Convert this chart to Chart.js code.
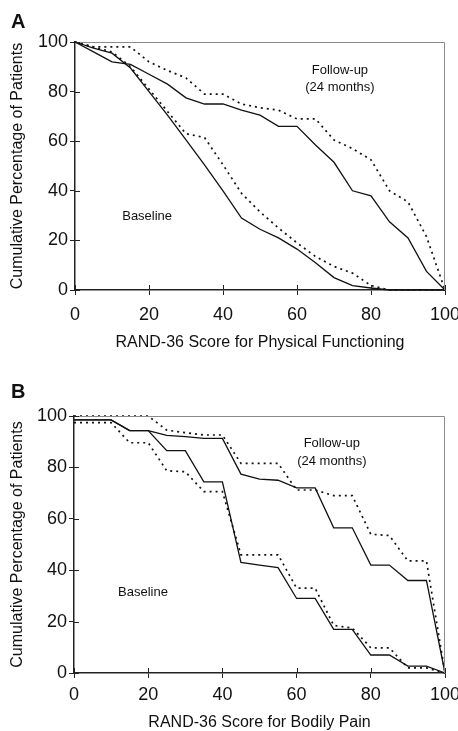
<!DOCTYPE html>
<html>
<head>
<meta charset="utf-8">
<script src="https://cdn.jsdelivr.net/npm/chart.js@4.4.1/dist/chart.umd.min.js"></script>
<style>
	body { margin:0; background:#fff; }
	#boxA { position:absolute; left:0; top:0; }
	#boxB { position:absolute; left:0; top:365px; }
</style>
</head>
<body>
<div id="boxA"><canvas id="graficoA" width="458" height="365"></canvas></div>
<div id="boxB"><canvas id="graficoB" width="458" height="366"></canvas></div>
<script>
	// scores on the x axis (RAND-36, 0-100)
	var scores = [0,5,10,15,20,25,30,35,40,45,50,55,60,65,70,75,80,85,90,95,100];
	var tickStep = 20;

	// A - Physical Functioning
	var physBaseSolid    = [100,97.5,95.5,89.5,80,70.5,60.5,50.5,40,29,24.5,21,16.5,11,5,1.8,0.8,0,0,0,0];
	var physBaseDotted   = [100,98,96,90,81,72,63,61.5,50.5,39,31.5,25,19,13.5,9.5,6.8,1.8,0,0,0,0];
	var physFollowSolid  = [100,96,92,91,87,83,77.5,75,75,72.5,70.5,66,66,58.5,51.5,40,38,27.5,21,7.5,0];
	var physFollowDotted = [100,98,98,98,92,88.5,85.5,79,79,75,73.5,72.5,69,69,60.5,57,52.5,40,35.5,21.5,0];

	// B - Bodily Pain
	var painBaseSolid    = [98.5,98.5,98.5,94.3,94.3,86.5,86.5,74.4,74.4,43,42,41,29,29,17,17,7,7,2.7,2.7,0];
	var painBaseDotted   = [97.4,97.4,97.4,89.6,89.6,78.7,78.3,70.6,70.6,46,46,46,33,33,18.5,17.5,9.8,9.8,2,2,0];
	var painFollowSolid  = [98.5,98.5,98.5,94.3,94.3,92.5,92,91.3,91.3,77.4,75.4,75,72,72,56.5,56.5,42,42,36,36,0];
	var painFollowDotted = [100,100,100,100,100,94.5,93.5,92.6,92.6,81.6,81.6,81.6,71.2,71.2,69,69,54,53.5,43.6,43.6,0];

	var fonte = 'Arial, "Liberation Sans", sans-serif';
	Chart.defaults.font.family = fonte;
	Chart.defaults.color = '#111';

	function pontos(valores){
		return scores.map(function(s, i){ return {x: s, y: valores[i]}; });
	}

	function serie(valores, pontilhado){
		return {
			data: pontos(valores),
			borderColor: '#111',
			borderWidth: pontilhado ? 1.7 : 1.3,
			borderDash: pontilhado ? [2,4] : [],
			pointRadius: 0,
			tension: 0,
			fill: false,
			clip: false
		};
	}

	// frame, inner ticks, notes and panel letter
	var extras = {
		id: 'extras',
		afterDraw: function(chart, args, opts){
			var ctx = chart.ctx, a = chart.chartArea;
			var sx = chart.scales.x, sy = chart.scales.y;
			ctx.save();
			ctx.strokeStyle = '#8a8a8a';
			ctx.lineWidth = 1;
			ctx.beginPath();
			ctx.moveTo(a.left, a.top + 0.5);
			ctx.lineTo(a.right - 0.5, a.top + 0.5);
			ctx.lineTo(a.right - 0.5, a.bottom);
			ctx.stroke();

			ctx.strokeStyle = '#222';
			ctx.beginPath();
			sx.ticks.forEach(function(t){
				var px = Math.round(sx.getPixelForValue(t.value)) + 0.5;
				ctx.moveTo(px, a.bottom);
				ctx.lineTo(px, a.bottom - 5);
			});
			sy.ticks.forEach(function(t){
				var py = Math.round(sy.getPixelForValue(t.value)) + 0.5;
				ctx.moveTo(a.left, py);
				ctx.lineTo(a.left + 5, py);
			});
			ctx.stroke();

			ctx.fillStyle = '#111';
			ctx.font = '13px ' + fonte;
			ctx.textAlign = 'center';
			ctx.textBaseline = 'middle';
			opts.notes.forEach(function(n){
				ctx.fillText(n.text, sx.getPixelForValue(n.x), sy.getPixelForValue(n.y));
			});

			ctx.font = 'bold 20px ' + fonte;
			ctx.textAlign = 'left';
			ctx.textBaseline = 'alphabetic';
			ctx.fillText(opts.letter, 11, opts.letterY);
			ctx.restore();
		}
	};

	function criarGrafico(id, series, cfg){
		var data = {
			datasets: [
				serie(series[0], true),
				serie(series[1], false),
				serie(series[2], true),
				serie(series[3], false)
			]
		};

		var options = {
			responsive: false,
			animation: false,
			layout: { padding: { top: cfg.top, right: 13, left: 0, bottom: 0 } },
			plugins: {
				legend: { display: false },
				tooltip: { enabled: false },
				extras: { notes: cfg.notes, letter: cfg.letter, letterY: cfg.letterY }
			},
			scales: {
				x: {
					type: 'linear',
					min: 0, max: 100,
					ticks: { stepSize: tickStep, padding: cfg.tickPad, font: { size: 18 }, color: '#111', maxRotation: 0 },
					grid: { drawOnChartArea: false, tickLength: 5, color: '#222' },
					border: { color: '#222', width: 1.5 },
					title: { display: true, text: cfg.xTitle, font: { size: 16, lineHeight: 1 }, color: '#111', padding: { top: 0, bottom: cfg.titlePad } },
					afterFit: function(s){ s.height = cfg.xHeight; s.paddingLeft = 0; s.paddingRight = 0; }
				},
				y: {
					min: 0, max: 100,
					ticks: { stepSize: tickStep, padding: 2, font: { size: 18 }, color: '#111' },
					grid: { drawOnChartArea: false, tickLength: 5, color: '#222' },
					border: { color: '#222', width: 1.5 },
					title: { display: true, text: 'Cumulative Percentage of Patients', font: { size: 16, lineHeight: 1.2 }, color: '#111', padding: { top: 8, bottom: 0 } },
					afterFit: function(s){ s.width = cfg.yWidth; s.paddingTop = 0; s.paddingBottom = 0; }
				}
			}
		};

		var ctx = document.getElementById(id).getContext('2d');
		new Chart(ctx, { type: 'line', data: data, options: options, plugins: [extras] });
	}

	criarGrafico('graficoA', [physBaseDotted, physBaseSolid, physFollowDotted, physFollowSolid], {
		top: 42, xHeight: 75, yWidth: 75, tickPad: 9, titlePad: 14,
		xTitle: 'RAND-36 Score for Physical Functioning',
		letter: 'A', letterY: 28,
		notes: [
			{ text: 'Follow-up', x: 71.6, y: 88.5 },
			{ text: '(24 months)', x: 71.6, y: 81.5 },
			{ text: 'Baseline', x: 19.5, y: 29.5 }
		]
	});

	criarGrafico('graficoB', [painBaseDotted, painBaseSolid, painFollowDotted, painFollowSolid], {
		top: 51, xHeight: 58, yWidth: 74, tickPad: 6, titlePad: 0,
		xTitle: 'RAND-36 Score for Bodily Pain',
		letter: 'B', letterY: 33,
		notes: [
			{ text: 'Follow-up', x: 69.5, y: 89.5 },
			{ text: '(24 months)', x: 69.5, y: 82.5 },
			{ text: 'Baseline', x: 18.6, y: 31.5 }
		]
	});
</script>
</body>
</html>
